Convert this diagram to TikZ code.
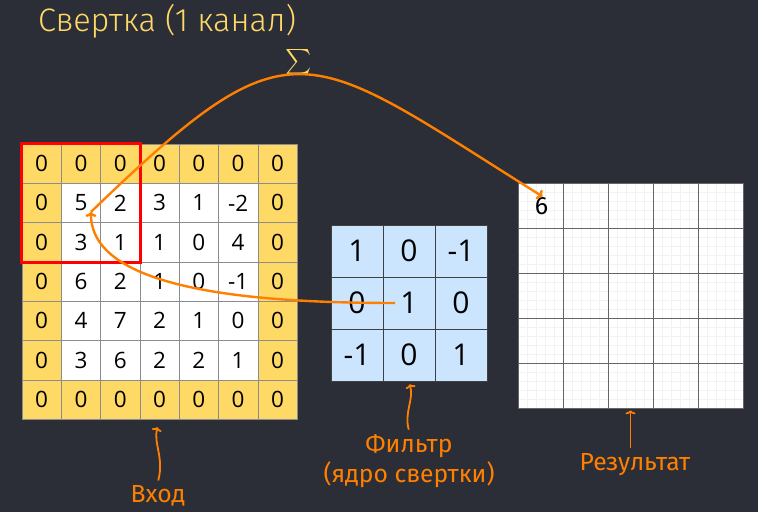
\documentclass[tikz,border=0pt]{standalone}
\usepackage{amsmath}
\usepackage{exscale}
\usepackage{fontspec}
\setmainfont{Fira Sans}
\newfontfamily\lightfont{Fira Sans Light}
\newfontfamily\numfont{Open Sans}
\usepackage{tikz}
\usetikzlibrary{arrows.meta}
\definecolor{bgcol}{RGB}{43,46,54}
\definecolor{padcol}{RGB}{255,217,102}
\definecolor{filtcol}{RGB}{204,229,255}
\definecolor{arrcol}{RGB}{255,128,0}
\tikzset{
  incell/.style={draw=black!45, line width=0.6pt, minimum size=39.3pt, inner sep=0pt, font=\numfont\fontsize{22.5}{22.5}\selectfont},
  fcell/.style={draw=black!75, line width=0.6pt, fill=filtcol, minimum size=52pt, inner sep=0pt, font=\numfont\fontsize{30}{30}\selectfont},
  rcell/.style={draw=black!60, line width=0.6pt, minimum size=45pt, inner sep=0pt},
  lbl/.style={text=arrcol, font=\fontsize{24.7}{26}\selectfont},
  bigarr/.style={draw=arrcol, line width=2.4pt, -{To[length=5pt,width=11pt]}},
  smallarr/.style={draw=arrcol, line width=1.8pt, -{To[length=4pt,width=10pt]}},
}
\begin{document}
\begin{tikzpicture}[x=1pt,y=1pt]
\fill[bgcol] (0,0) rectangle (758,512);
\node[anchor=base west, inner sep=0pt, text=padcol, font=\lightfont\fontsize{32.5}{34}\selectfont] (title) at (38,480) {Свертка (1 канал)};
\node[inner sep=0pt, text=padcol, font=\fontsize{26}{28}\selectfont] (sum) at (299,450) {$\textstyle\sum$};
\foreach \rowvals [count=\i from 0] in {{0,0,0,0,0,0,0},{0,5,2,3,1,-2,0},{0,3,1,1,0,4,0},{0,6,2,1,0,-1,0},{0,4,7,2,1,0,0},{0,3,6,2,2,1,0},{0,0,0,0,0,0,0}}
  \foreach \v [count=\j from 0] in \rowvals {
    \pgfmathtruncatemacro\pad{or(or(\i==0,\i==6),or(\j==0,\j==6))}
    \ifnum\pad=1 \def\cf{padcol}\else\def\cf{white}\fi
    \node[incell, fill=\cf] (in\i\j) at ({22+39.3*(\j+0.5)},{368-39.3*(\i+0.5)}) {\v};
  }
\draw[red, line width=3pt] (in00.north west) rectangle (in22.south east);
\coordinate (hub) at ([shift={(10,-9)}]in11.center);
\foreach \rowvals [count=\i from 0] in {{1,0,-1},{0,1,0},{-1,0,1}}
  \foreach \v [count=\j from 0] in \rowvals
    \node[fcell] (f\i\j) at ({331+52*(\j+0.5)},{287-52*(\i+0.5)}) {\v};
\fill[white] (518,104) rectangle (743,329);
\draw[black!5, step=9pt, xshift=518pt, yshift=104pt] (0,0) grid (225,225);
\foreach \i in {0,...,4}
  \foreach \j in {0,...,4}
    \node[rcell] (r\i\j) at ({518+45*(\j+0.5)},{329-45*(\i+0.5)}) {};
\node[font=\fontsize{25}{25}\selectfont] (res) at ([shift={(1,-1)}]r00.center) {6};
\node[lbl, anchor=base] (lblin) at (158,10) {Вход};
\node[lbl, anchor=base] (lblf) at (409,60) {Фильтр};
\node[lbl, anchor=base] (lblf2) at (409,30) {(ядро свертки)};
\node[lbl, anchor=base] (lblr) at (635,42) {Результат};
\draw[bigarr, shorten <=14pt] (f11.center) to[out=180, in=-90, out looseness=1.23, in looseness=0.6] (hub);
\draw[bigarr] (hub) to[out=44, in=148, looseness=1.6] ([shift={(2,9)}]r00.center);
\draw[smallarr, shorten <=1pt, shorten >=8pt] (lblin.north) to[out=75, in=-105] (in63.south);
\draw[smallarr, shorten <=1pt, shorten >=3pt] (lblf.north) to[out=105, in=-75] (f21.south);
\draw[smallarr, shorten <=1pt, shorten >=2pt] (lblr.north -| r42.south) -- (r42.south);
\end{tikzpicture}
\end{document}
